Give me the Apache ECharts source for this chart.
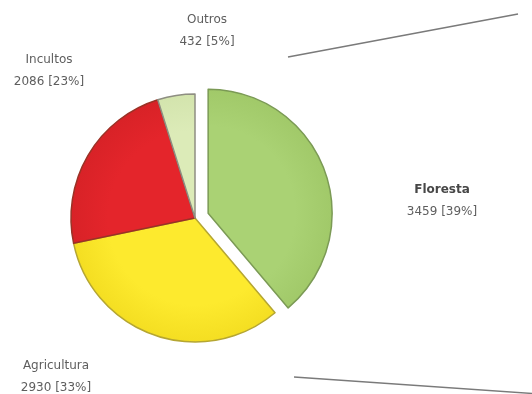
<!DOCTYPE html>
<html>
<head>
<meta charset="utf-8">
<script src="https://cdn.jsdelivr.net/npm/echarts@6/dist/echarts.min.js"></script>
<style>
  html, body { margin: 0; padding: 0; background: #fff; }
  #chart { width: 532px; height: 394px; }
</style>
</head>
<body>
<div id="chart"></div>
<script>
// land use, clockwise from 12 o'clock
const categories = ["Floresta", "Agricultura", "Incultos", "Outros"];
const values = [3459, 2930, 2086, 432];
const exploded = [true, false, false, false];

const fills = ["#aad274", "#fdea2e", "#e4252b", "#dcebb8"];
const rims = ["#a1c969", "#f4de22", "#d82227", "#d3e4ad"];
const borders = ["#7b9a55", "#b5a632", "#9a3226", "#8e8e82"];
const labelPos = [[442, 201], [56, 377], [49, 71], [207, 31]];

const CX = 195, CY = 218, R = 124, EXPLODE = 14;

const chart = echarts.init(document.getElementById("chart"), null, { renderer: "canvas" });

// offset of the pulled-out slice along its middle angle
const total = values.reduce((a, b) => a + b, 0);
let acc = 0;
let dx = 0, dy = 0;
values.forEach((v, i) => {
  if (exploded[i]) {
    const mid = (90 - (acc + v / 2) / total * 360) * Math.PI / 180;
    dx = EXPLODE * Math.cos(mid);
    dy = -EXPLODE * Math.sin(mid);
  }
  acc += v;
});

function fillFor(i, cx, cy) {
  return {
    type: "radial", x: cx, y: cy, r: R, global: true,
    colorStops: [
      { offset: 0, color: fills[i] },
      { offset: 0.7, color: fills[i] },
      { offset: 1, color: rims[i] }
    ]
  };
}

const labelStyle = {
  show: true,
  position: "outside",
  overflow: "none",
  formatter: p => {
    const nm = p.dataIndex === 0 ? "{nb|" + p.name + "}" : "{n|" + p.name + "}";
    return nm + "\n{v|" + p.value + " [" + p.percent + "%]}";
  },
  rich: {
    n: { fontFamily: "DejaVu Sans", fontSize: 12, color: "#5e5e5e", lineHeight: 22 },
    nb: { fontFamily: "DejaVu Sans", fontSize: 12, fontWeight: "bold", color: "#474747", lineHeight: 22 },
    v: { fontFamily: "DejaVu Sans", fontSize: 12, color: "#5e5e5e", lineHeight: 22 }
  }
};

const common = {
  type: "pie",
  radius: R,
  startAngle: 90,
  clockwise: true,
  percentPrecision: 0,
  silent: true,
  emphasis: { disabled: true },
  labelLine: { show: false }
};

chart.setOption({
  animation: false,
  graphic: [
    { type: "line", shape: { x1: 288, y1: 57, x2: 518, y2: 14 }, style: { stroke: "#7a7a7a", lineWidth: 1.5 } },
    { type: "line", shape: { x1: 294, y1: 377, x2: 540, y2: 394 }, style: { stroke: "#7a7a7a", lineWidth: 1.5 } }
  ],
  series: [
    Object.assign({}, common, {
      center: [CX, CY],
      label: labelStyle,
      labelLayout: p => ({
        x: labelPos[p.dataIndex][0],
        y: labelPos[p.dataIndex][1],
        align: "center",
        verticalAlign: "middle"
      }),
      data: categories.map((c, i) => ({
        name: c,
        value: values[i],
        itemStyle: exploded[i]
          ? { color: "rgba(0,0,0,0)", borderWidth: 0 }
          : { color: fillFor(i, CX, CY), borderColor: borders[i], borderWidth: 1.5 }
      }))
    }),
    Object.assign({}, common, {
      center: [CX + dx, CY + dy],
      label: { show: false },
      data: categories.map((c, i) => ({
        name: c,
        value: values[i],
        itemStyle: exploded[i]
          ? { color: fillFor(i, CX + dx, CY + dy), borderColor: borders[i], borderWidth: 1.5 }
          : { color: "rgba(0,0,0,0)", borderWidth: 0 }
      }))
    })
  ]
});
</script>
</body>
</html>
